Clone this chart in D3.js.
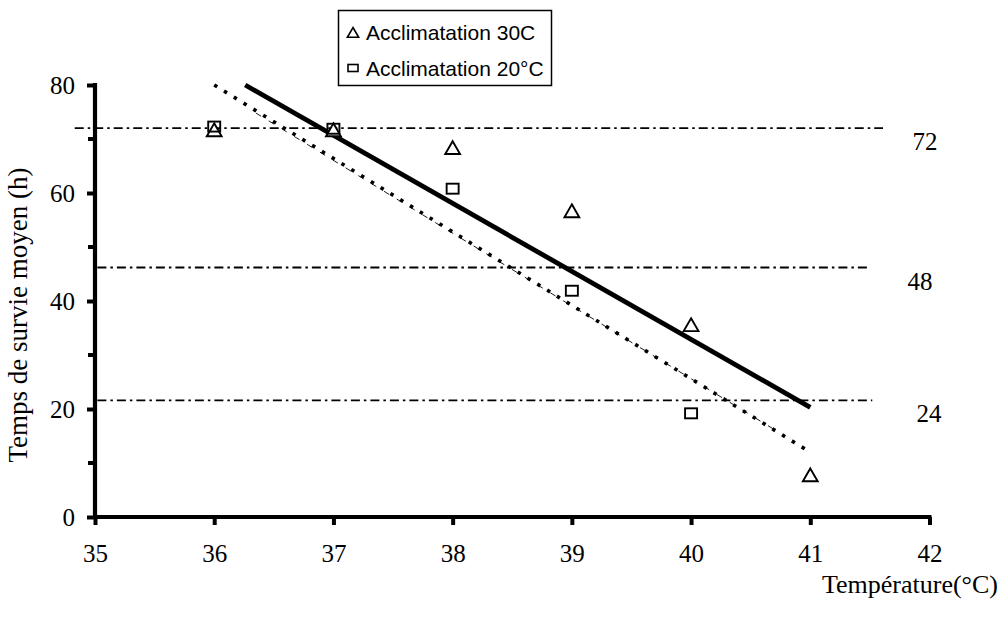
<!DOCTYPE html>
<html lang="fr">
<head>
  <meta charset="UTF-8">
  <title>Temps de survie moyen</title>
  <script src="https://d3js.org/d3.v7.min.js"></script>
  <style>
    body { margin: 0; background: #fff; }
    text { fill: #000; }
  </style>
</head>
<body>
  <div id="chart"></div>

  <script>
    // Data
    const temps30 = [36, 37, 38, 39, 40, 41];
    const surv30 = [71.5, 71.5, 68.2, 56.5, 35.4, 7.6];
    const temps20 = [36, 37, 38, 39, 40];
    const surv20 = [72.3, 71.9, 60.8, 41.9, 19.2];

    // Trend lines (end points)
    const trend30 = [[36.26, 80], [41, 20.3]];
    const trend20 = [[36, 80], [41, 12]];
    const trend20thin = [[36.35, 74.8], [40.75, 15.5]];

    // Reference levels (hours) and their labels
    const refLevels = [72, 46.2, 21.6];
    const refLabels = ["72", "48", "24"];
    const refStart = [34.83, 35.02, 35.02];
    const refEnd = [41.61, 41.5, 41.52];

    const xTicks = [35, 36, 37, 38, 39, 40, 41, 42];
    const yTicks = [0, 20, 40, 60, 80];
    const yMinor = [10, 30, 50, 70];

    const serif = "Liberation Serif, Times New Roman, serif";
    const width = 1001, height = 617;
    const svg = d3.select("#chart").append("svg")
      .attr("width", width)
      .attr("height", height);

    const x = d3.scaleLinear().domain([35, 42]).range([95, 929.5]);
    const y = d3.scaleLinear().domain([0, 80]).range([517, 85]);

    // Reference lines
    const refG = svg.append("g");
    refLevels.forEach((v, i) => {
      refG.append("line")
        .attr("x1", x(refStart[i]))
        .attr("x2", x(refEnd[i]))
        .attr("y1", y(v))
        .attr("y2", y(v))
        .attr("stroke", "#000")
        .attr("stroke-width", 1.8)
        .attr("stroke-dasharray", "9,4,2.5,4");
    });
    const labelX = [925, 920, 929];
    refG.selectAll("text")
      .data(refLabels)
      .join("text")
        .attr("x", (d, i) => labelX[i])
        .attr("y", (d, i) => y(refLevels[i]) + 22)
        .attr("text-anchor", "middle")
        .attr("font-family", serif)
        .attr("font-size", 25)
        .text(d => d);

    // Trend lines
    const line = d3.line().x(d => x(d[0])).y(d => y(d[1]));

    svg.append("path")
      .attr("d", line(trend20))
      .attr("fill", "none")
      .attr("stroke", "#000")
      .attr("stroke-width", 3.6)
      .attr("stroke-dasharray", "3.5,8");

    svg.append("path")
      .attr("d", line(trend20thin))
      .attr("fill", "none")
      .attr("stroke", "#000")
      .attr("stroke-width", 0.9)
      .attr("stroke-dasharray", "6,9");

    svg.append("path")
      .attr("d", line(trend30))
      .attr("fill", "none")
      .attr("stroke", "#000")
      .attr("stroke-width", 4.8);

    // Markers
    const tri = d3.symbol().type(d3.symbolTriangle).size(95);
    svg.append("g")
      .selectAll("path")
      .data(temps30)
      .join("path")
        .attr("transform", (d, i) => `translate(${x(d)},${y(surv30[i]) + 1})`)
        .attr("d", tri)
        .attr("fill", "#fff")
        .attr("stroke", "#000")
        .attr("stroke-width", 1.9);

    svg.append("g")
      .selectAll("rect")
      .data(temps20)
      .join("rect")
        .attr("x", d => x(d) - 6)
        .attr("y", (d, i) => y(surv20[i]) - 5)
        .attr("width", 12)
        .attr("height", 10)
        .attr("fill", "none")
        .attr("stroke", "#000")
        .attr("stroke-width", 1.9);

    // Axes
    const xAxis = svg.append("g")
      .attr("transform", `translate(0,${y(0)})`)
      .call(d3.axisBottom(x).tickValues(xTicks).tickSize(8).tickPadding(19).tickFormat(d3.format("d")));
    const yAxis = svg.append("g")
      .attr("transform", `translate(${x(35)},0)`)
      .call(d3.axisLeft(y).tickValues(yTicks).tickSize(8).tickPadding(12).tickFormat(d3.format("d")));

    [xAxis, yAxis].forEach(g => {
      g.select(".domain").attr("stroke-width", 4.2);
      g.selectAll(".tick line").attr("stroke-width", 4);
      g.selectAll(".tick text")
        .attr("font-family", serif)
        .attr("font-size", 25);
    });
    xAxis.select(".domain").attr("d", `M${x(35) - 2},0H${x(42) + 2}`);
    yAxis.select(".domain").attr("d", `M0,${y(80) - 2}V${y(0) + 2}`);

    svg.append("g")
      .selectAll("line")
      .data(yMinor)
      .join("line")
        .attr("x1", x(35) - 7)
        .attr("x2", x(35))
        .attr("y1", d => y(d))
        .attr("y2", d => y(d))
        .attr("stroke", "#000")
        .attr("stroke-width", 4);

    // Axis titles
    svg.append("text")
      .attr("transform", `translate(27,${(y(0) + y(80)) / 2 + 14}) rotate(-90)`)
      .attr("text-anchor", "middle")
      .attr("font-family", serif)
      .attr("font-size", 27)
      .text("Temps de survie moyen (h)");

    svg.append("text")
      .attr("x", 998)
      .attr("y", 593)
      .attr("text-anchor", "end")
      .attr("font-family", serif)
      .attr("font-size", 26)
      .text("Température(°C)");

    // Legend
    const legend = svg.append("g").attr("font-family", "Liberation Sans, Arial, sans-serif");
    legend.append("rect")
      .attr("x", 338.5)
      .attr("y", 10.5)
      .attr("width", 213)
      .attr("height", 75)
      .attr("fill", "#fff")
      .attr("stroke", "#000")
      .attr("stroke-width", 1.5);

    const legendItems = ["Acclimatation 30C", "Acclimatation 20°C"];
    legend.append("path")
      .attr("transform", "translate(353,34)")
      .attr("d", d3.symbol().type(d3.symbolTriangle).size(55))
      .attr("fill", "none")
      .attr("stroke", "#000")
      .attr("stroke-width", 1.6);
    legend.append("rect")
      .attr("x", 348)
      .attr("y", 64.5)
      .attr("width", 10)
      .attr("height", 7)
      .attr("fill", "none")
      .attr("stroke", "#000")
      .attr("stroke-width", 1.6);
    legend.selectAll("text")
      .data(legendItems)
      .join("text")
        .attr("x", 366)
        .attr("y", (d, i) => 40 + i * 36)
        .attr("font-size", 21)
        .text(d => d);
  </script>
</body>
</html>
